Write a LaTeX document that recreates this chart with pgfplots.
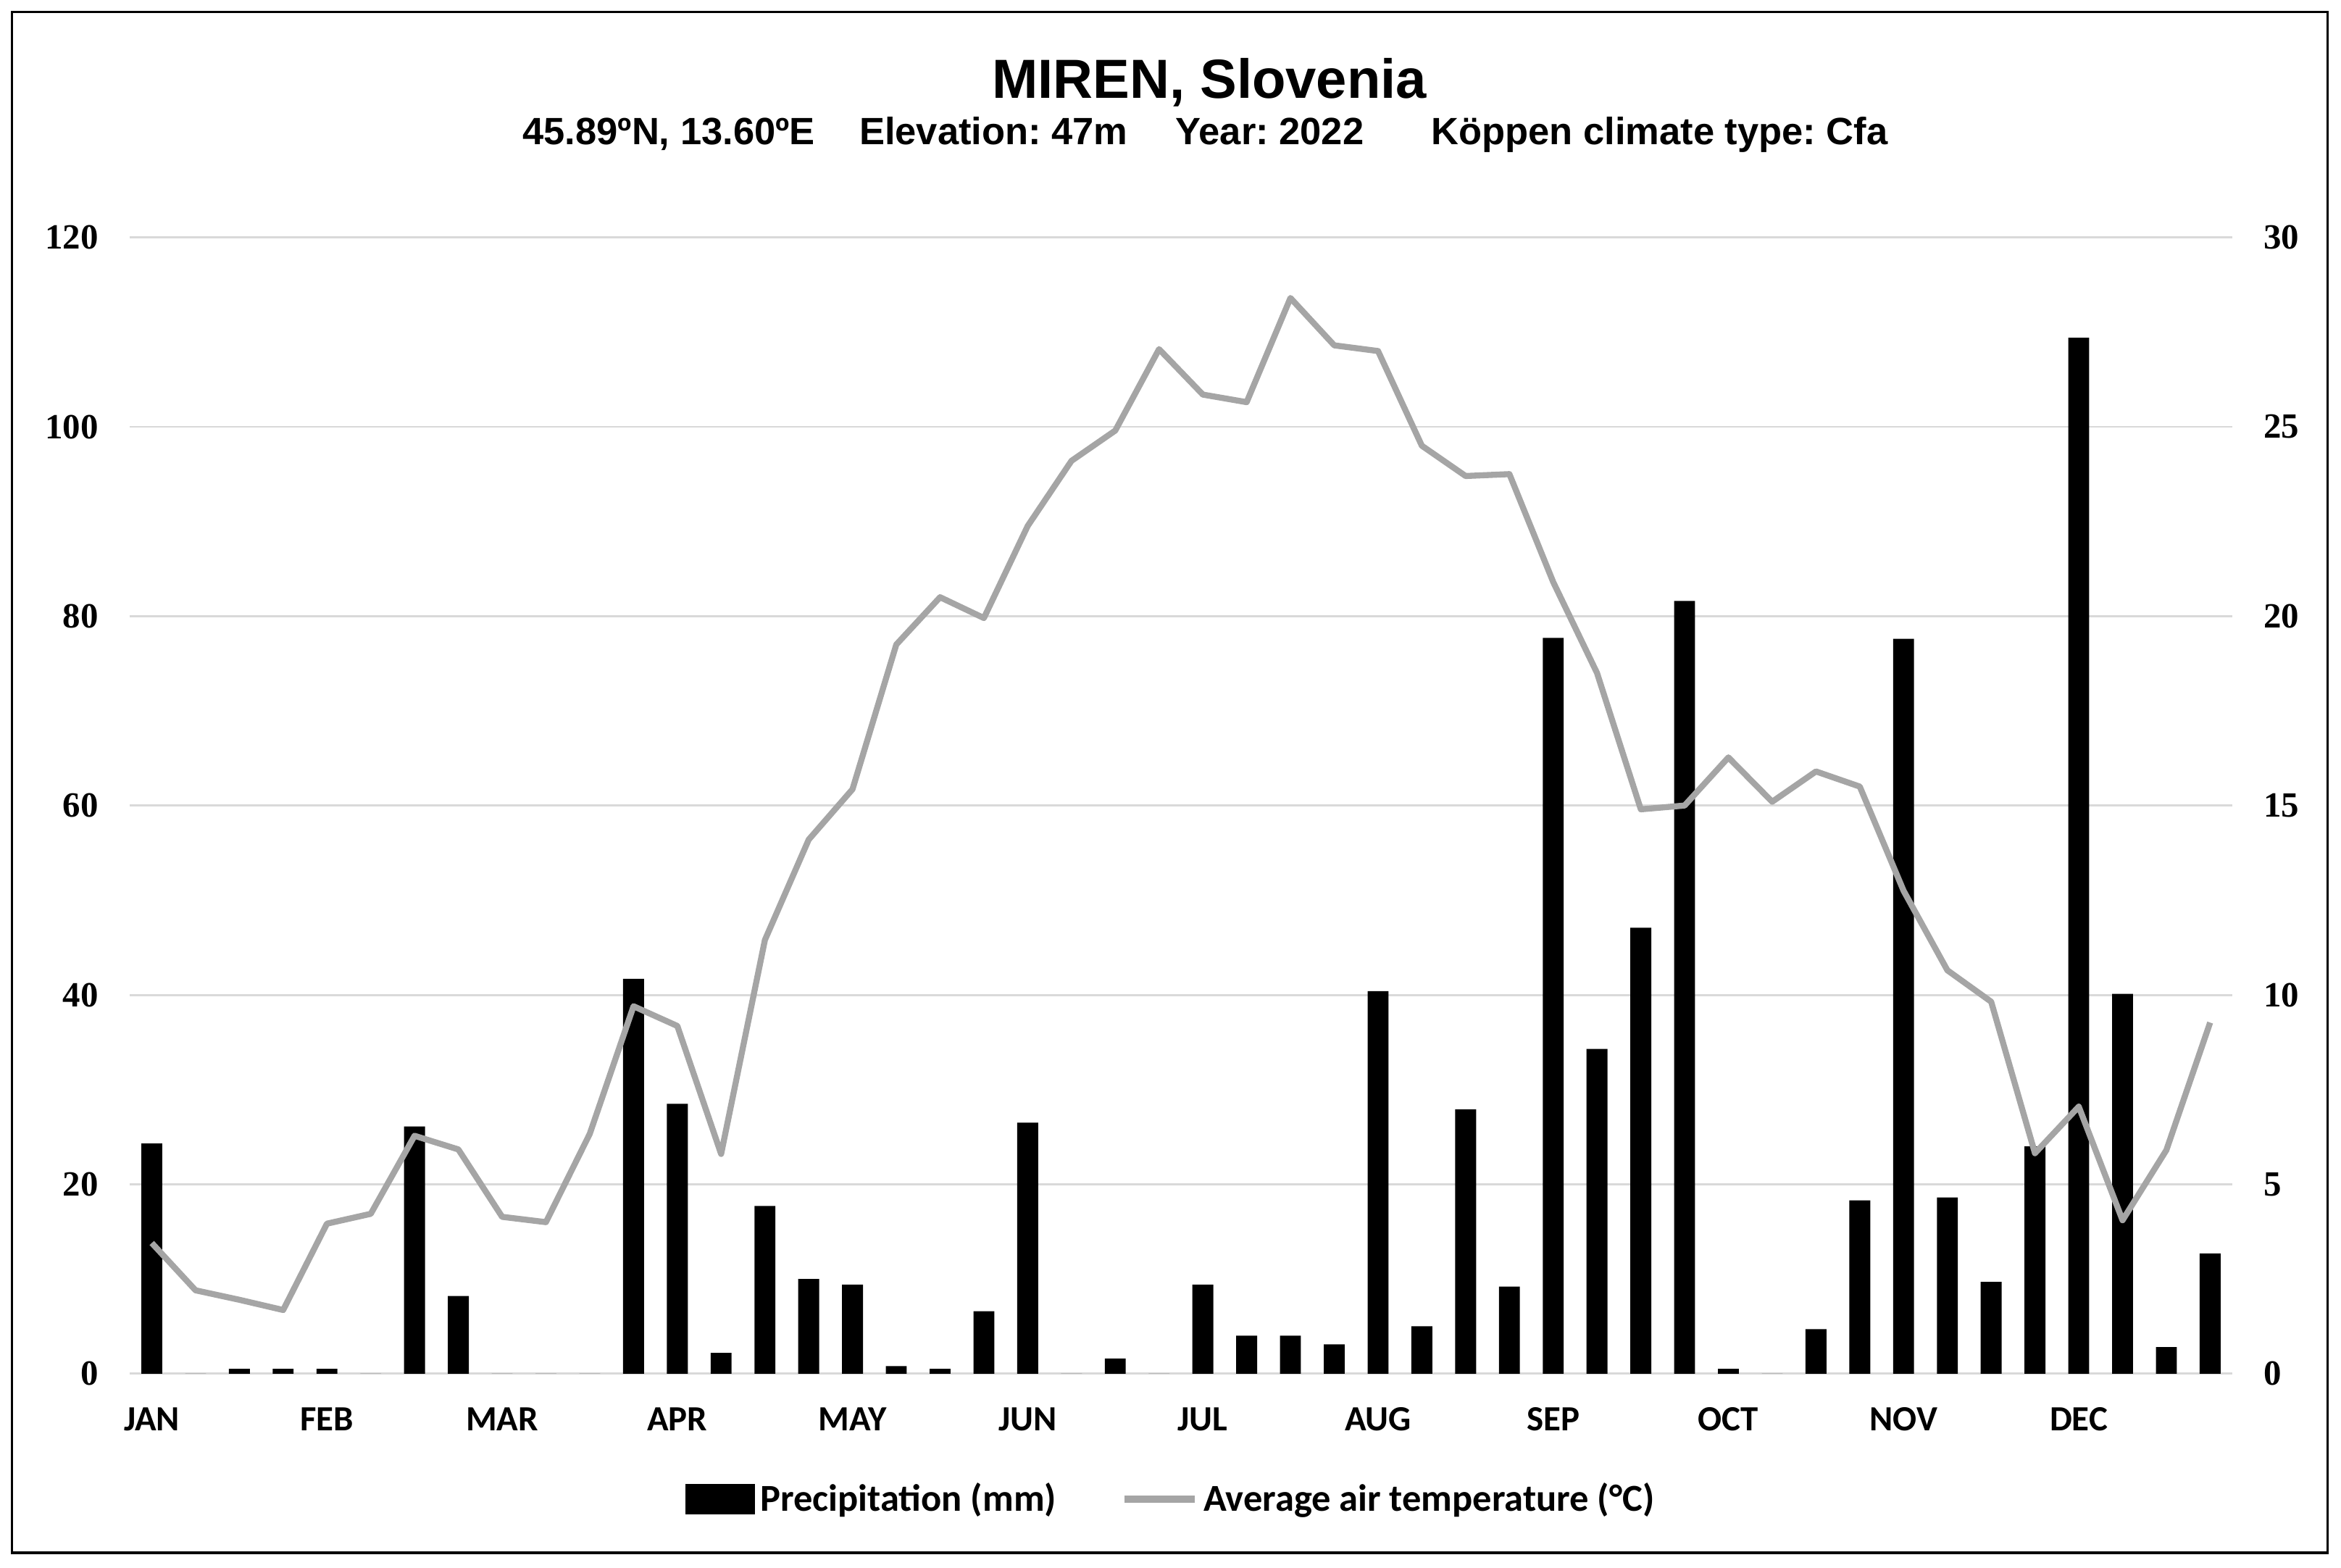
\documentclass[border=0pt]{standalone}
\usepackage{fontspec}
\setmainfont{Liberation Sans}
\newfontfamily\calib{Carlito}
\newfontfamily\cambr{Liberation Serif}
\usepackage{pgfplots}
\pgfplotsset{compat=1.18}
\usepackage{pgfplotstable}
\definecolor{tempgray}{HTML}{A5A5A5}
\definecolor{gridgray}{HTML}{D9D9D9}
\frenchspacing

% weekly values, 2022: precipitation (mm) and mean air temperature (C)
\pgfplotstableread{
idx prec temp
0 24.3 3.45
1 0 2.2
2 0.5 1.95
3 0.5 1.68
4 0.5 3.96
5 0 4.22
6 26.1 6.28
7 8.2 5.92
8 0 4.14
9 0 4.0
10 0 6.33
11 41.7 9.7
12 28.5 9.18
13 2.2 5.8
14 17.7 11.45
15 10.0 14.1
16 9.4 15.43
17 0.8 19.25
18 0.5 20.5
19 6.6 19.95
20 26.5 22.38
21 0 24.1
22 1.6 24.9
23 0 27.05
24 9.4 25.85
25 4.0 25.65
26 4.0 28.4
27 3.1 27.15
28 40.4 27.0
29 5.0 24.5
30 27.9 23.7
31 9.2 23.75
32 77.7 20.9
33 34.3 18.5
34 47.1 14.9
35 81.6 15.0
36 0.5 16.27
37 0 15.1
38 4.7 15.9
39 18.3 15.5
40 77.6 12.75
41 18.6 10.65
42 9.7 9.82
43 24.0 5.82
44 109.4 7.05
45 40.1 4.05
46 2.8 5.9
47 12.7 9.27
}\weekly

\begin{document}
\begin{tikzpicture}
\pgfplotsset{
  base/.style={
    scale only axis, width=281.6mm, height=152.2mm,
    at={(0,0)}, anchor=south west,
    xmin=-0.5, xmax=47.5,
    axis line style={draw=none},
    major tick length=0pt,
    /pgf/number format/assume math mode=true,
    yticklabel style={font=\cambr\bfseries\fontsize{13.5}{15}\selectfont},
  }
}
\begin{axis}[base,
  ymin=0, ymax=120, ytick={0,20,...,120},
  ymajorgrids, grid style={gridgray, line width=0.8pt},
  xtick={0,4,...,44},
  xticklabels={JAN,FEB,MAR,APR,MAY,JUN,JUL,AUG,SEP,OCT,NOV,DEC},
  xticklabel style={font=\calib\bfseries\fontsize{13.5}{15}\selectfont, yshift=-3.3mm},
  yticklabel style={xshift=-3mm},
  ybar, bar width=2.8mm,
]
\addplot[fill=black, draw=none] table[x=idx, y=prec]{\weekly};
\end{axis}
\begin{axis}[base,
  ymin=0, ymax=30, ytick={0,5,...,30},
  axis y line*=right, axis x line=none,
  yticklabel style={xshift=3mm, anchor=west},
  legend style={at={(0.496,-0.1104)}, anchor=center, draw=none,
    font=\calib\bfseries\fontsize{14.5}{17}\selectfont,
    legend columns=2, legend cell align=left,
    /tikz/every even column/.append style={column sep=8mm}},
]
\addlegendimage{legend image code/.code={\fill[black] (0mm,-2mm) rectangle (9.2mm,2mm);}}
\addlegendentry{Precipitation (mm)}
\addplot[tempgray, line width=2.3pt, line join=round, mark=none,
  legend image code/.code={\draw[tempgray, line width=2.6pt] (0mm,0mm) -- (9.4mm,0mm);}]
  table[x=idx, y=temp]{\weekly};
\addlegendentry{Average air temperature (°C)}
\end{axis}
\node[anchor=base, font=\bfseries\fontsize{21}{25}\selectfont] at (144.6mm,170.8mm) {MIREN, Slovenia};
\begin{scope}[every node/.style={anchor=base, font=\bfseries\fontsize{14.5}{17}\selectfont}]
\node at (72.2mm,164.6mm) {45.89ºN, 13.60ºE};
\node at (115.7mm,164.6mm) {Elevation: 47m};
\node at (152.7mm,164.6mm) {Year: 2022};
\node at (204.9mm,164.6mm) {Köppen climate type: Cfa};
\end{scope}
\draw[line width=0.9pt] (-15.8mm,-24mm) rectangle (294.4mm,182.4mm);
\pgfresetboundingbox
\path[use as bounding box] (-17.4mm,-26mm) rectangle (296.2mm,184mm);
\end{tikzpicture}
\end{document}
